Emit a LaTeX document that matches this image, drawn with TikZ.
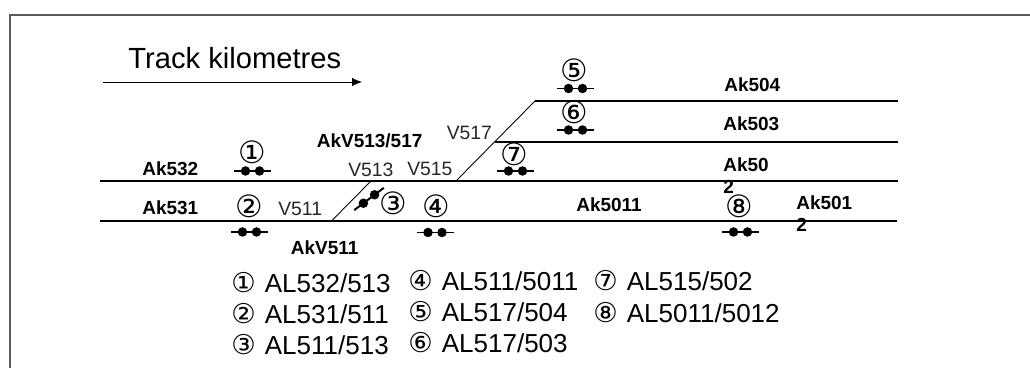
\documentclass[tikz,border=0pt]{standalone}
\usepackage{fontspec}
\setmainfont{Liberation Sans}
\newfontfamily\circfont{DejaVu Sans}
\usetikzlibrary{arrows.meta, positioning, calc}
\tikzset{
    track/.style={line width=0.9pt},
    frameline/.style={line width=0.6pt, draw=black!65},
    dot/.style={circle, fill=black, inner sep=0pt, minimum size=0.19cm},
    sig/.style={line width=1.1pt},
    tname/.style={inner sep=0pt, anchor=west, align=left, font=\fontsize{10.8}{13}\bfseries\selectfont},
    vname/.style={inner sep=0pt, anchor=west, font=\fontsize{11}{13}\selectfont, text=black!85},
    num/.style={inner sep=0pt, font=\fontsize{17.5}{20}\circfont},
    legend/.style={inner sep=0pt, anchor=base west, font=\fontsize{14.8}{17}\selectfont}
}
\newcommand{\signal}[5]{% name, centre x, centre y, angle, half length
    \coordinate (#1) at (#2,#3);
    \draw[sig] ($(#1)+(#4:#5)$) -- ($(#1)+(#4+180:#5)$);
    \node[dot] at ($(#1)+(#4:0.14)$) {};
    \node[dot] at ($(#1)+(#4+180:0.14)$) {};
}
\newcommand{\legtext}[2]{\makebox[0.67cm][l]{\circfont\fontsize{15.5}{17}\selectfont #1}#2}
\begin{document}
\begin{tikzpicture}
    \useasboundingbox (0,0) rectangle (20.6,7.36);

    % Frame
    \coordinate (fbl) at (0.2,0);
    \coordinate (ftl) at (0.2,7.06);
    \coordinate (ftr) at (20.6,7.06);
    \draw[frameline] (fbl) -- (ftl) -- (ftr);

    % Direction
    \node[inner sep=0pt, anchor=base west, font=\fontsize{16.6}{19}\selectfont] (title) at (2.56,5.98) {Track kilometres};
    \coordinate (dira) at (2.06,5.72);
    \coordinate (dirb) at (7.24,5.72);
    \draw[-{Latex[length=0.2cm,width=0.17cm]}, line width=0.5pt] (dira) -- (dirb);

    % Tracks
    \coordinate (t1a) at (2,3.74);
    \coordinate (t1b) at (17.96,3.74);
    \coordinate (t2a) at (2,2.94);
    \coordinate (t2b) at (17.94,2.94);
    \coordinate (t3a) at (9.9,4.52);
    \coordinate (t3b) at (17.96,4.52);
    \coordinate (t4a) at (10.7,5.34);
    \coordinate (t4b) at (17.96,5.34);
    \coordinate (v1) at (9.12,3.74);
    \coordinate (v2) at (6.63,2.94);
    \coordinate (v3) at (7.42,3.74);
    \draw[track] (t1a) -- (t1b);
    \draw[track] (t2a) -- (t2b);
    \draw[track] (t3a) -- (t3b);
    \draw[track] (t4a) -- (t4b);
    \draw[line width=0.5pt] (v1) -- (t4a);
    \draw[line width=0.5pt] (v2) -- (v3);

    % Signals
    \signal{s1}{5.05}{3.94}{0}{0.37}
    \signal{s2}{4.99}{2.72}{0}{0.37}
    \signal{s3}{7.38}{3.38}{37}{0.37}
    \signal{s4}{8.7}{2.71}{0}{0.37}
    \signal{s5}{11.51}{5.59}{0}{0.37}
    \signal{s6}{11.51}{4.76}{0}{0.37}
    \signal{s7}{10.31}{3.94}{0}{0.37}
    \signal{s8}{14.81}{2.72}{0}{0.37}

    % Numbers
    \node[num] (n1) at (5.04,4.32) {①};
    \node[num] (n2) at (4.98,3.24) {②};
    \node[num] (n3) at (7.86,3.3) {③};
    \node[num] (n4) at (8.72,3.24) {④};
    \node[num] (n5) at (11.48,5.96) {⑤};
    \node[num] (n6) at (11.48,5.12) {⑥};
    \node[num] (n7) at (10.28,4.28) {⑦};
    \node[num] (n8) at (14.78,3.24) {⑧};

    % Track names
    \node[tname] (ak532) at (2.84,3.98) {Ak532};
    \node[tname] (ak531) at (2.84,3.2) {Ak531};
    \node[tname] (akv513) at (6.33,4.54) {AkV513/517};
    \node[tname] (akv511) at (5.81,2.40) {AkV511};
    \node[tname] (ak504) at (14.48,5.66) {Ak504};
    \node[tname] (ak503) at (14.46,4.88) {Ak503};
    \node[tname, anchor=north west] (ak502) at (14.46,4.22) {Ak50\\2};
    \node[tname] (ak5011) at (11.52,3.26) {Ak5011};
    \node[tname, anchor=north west] (ak5012) at (15.92,3.46) {Ak501\\2};

    % Points
    \node[vname] (v511) at (5.56,3.18) {V511};
    \node[vname] (v513) at (6.96,3.96) {V513};
    \node[vname] (v515) at (8.14,3.98) {V515};
    \node[vname] (v517) at (8.93,4.7) {V517};

    % Legend
    \node[legend] (l1) at (4.62,1.5) {\legtext{①}{AL532/513}};
    \node[legend] (l2) at (4.62,0.88) {\legtext{②}{AL531/511}};
    \node[legend] (l3) at (4.62,0.26) {\legtext{③}{AL511/513}};
    \node[legend] (l4) at (8.16,1.54) {\legtext{④}{AL511/5011}};
    \node[legend] (l5) at (8.16,0.92) {\legtext{⑤}{AL517/504}};
    \node[legend] (l6) at (8.16,0.3) {\legtext{⑥}{AL517/503}};
    \node[legend] (l7) at (11.86,1.54) {\legtext{⑦}{AL515/502}};
    \node[legend] (l8) at (11.86,0.9) {\legtext{⑧}{AL5011/5012}};
\end{tikzpicture}
\end{document}
